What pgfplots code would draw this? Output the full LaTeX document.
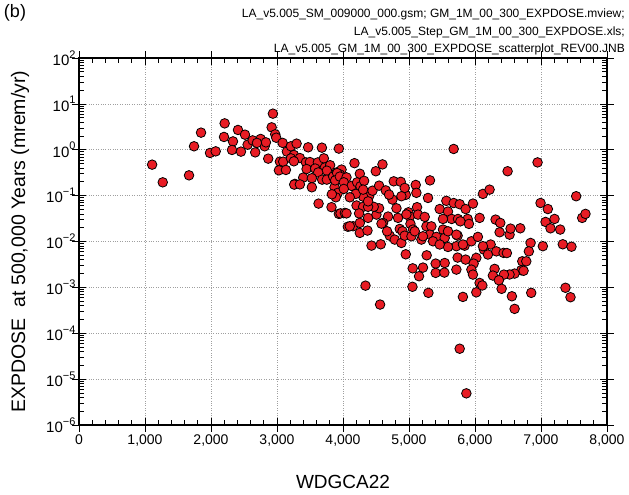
\documentclass[border=0pt]{standalone}
\usepackage{pgfplots}
\pgfplotsset{compat=1.18}
\usepackage{fontspec}
\setmainfont{Liberation Sans}
\definecolor{dotred}{RGB}{232,28,36}
\newcommand{\dec}[1]{10\raisebox{0.48em}{\fontsize{11}{12}\selectfont #1}}

\pgfplotstableread{
x y
1108 0.473
1269 0.195
1667 0.277
1743 1.19
1849 2.36
1985 0.852
2071 0.923
2207 3.76
2197 1.90
2333 1.52
2318 0.99
2409 2.70
2454 0.91
2515 2.13
2555 1.29
2631 1.60
2670 0.877
2752 1.72
2813 1.19
2832 1.45
2867 0.640
2938 6.12
2919 3.08
2973 2.17
2696 1.41
2988 1.83
3085 1.41
3150 0.91
3044 0.551
3094 0.55
3029 0.356
3135 0.363
3211 1.19
3297 1.36
3256 0.77
3211 0.65
3347 0.66
3271 0.18
3472 1.13
3680 1.11
3937 1.06
3438 0.53
3498 0.54
3619 0.53
3710 0.65
3725 0.41
3805 0.46
3902 0.32
3755 0.35
3448 0.38
3578 0.39
3624 0.32
3397 0.247
3528 0.24
3261 0.174
3347 0.176
3528 0.152
3684 0.223
3755 0.223
3872 0.153
3922 0.115
3891 0.092
3630 0.067
3826 0.056
3937 0.040
3256 0.56
3851 0.26
3978 0.37
3952 0.29
3911 0.31
3881 0.215
3831 0.107
3952 0.26
4053 0.25
4012 0.195
4174 0.51
4129 0.163
4214 0.195
4255 0.30
4265 0.16
4320 0.21
4395 0.097
4305 0.095
4194 0.109
4103 0.092
4012 0.14
4447 0.128
4497 0.34
4598 0.48
4547 0.165
4648 0.13
4749 0.082
4769 0.205
4875 0.20
4810 0.053
4683 0.035
4607 0.0254
4507 0.0386
4547 0.053
4466 0.057
4205 0.061
4305 0.057
4380 0.057
3963 0.041
4028 0.042
4073 0.021
4153 0.0215
4255 0.0154
4371 0.0173
4432 0.00814
4572 0.0087
4834 0.0327
4860 0.0188
4901 0.0167
4991 0.0433
5011 0.035
5022 0.0242
5061 0.0182
4951 0.104
4951 0.00526
4708 0.0134
4784 0.011
4885 0.0093
4935 0.0134
5037 0.013
4053 0.041
4103 0.0215
4244 0.041
4380 0.0327
4583 0.0245
4668 0.0167
4961 0.039
4935 0.147
4255 0.0254
4305 0.135
4698 0.105
4885 0.097
4380 0.075
4341 0.00109
4562 0.000422
5102 0.171
5112 0.115
5318 0.215
5288 0.089
5566 0.077
5677 0.069
5768 0.065
5858 0.051
5969 0.067
5465 0.051
5591 0.045
5647 0.031
5515 0.031
5742 0.031
5889 0.031
5908 0.0242
5778 0.0275
5122 0.056
5137 0.0386
5238 0.0344
5264 0.0214
5339 0.0214
5314 0.0141
5415 0.0126
5515 0.0182
5541 0.012
5591 0.0167
5737 0.0134
5843 0.0081
5718 0.0079
5591 0.0076
5945 0.0101
5188 0.011
5404 0.0033
5541 0.0034
5404 0.00207
5536 0.0021
5718 0.00244
5737 0.00446
5858 0.00403
6020 0.0044
5979 0.0033
5945 0.00244
5969 0.0019
5268 0.005
5056 0.0026
5212 0.0027
5152 0.00175
5052 0.00103
5294 0.00076
5817 0.00062
6020 0.00078
5768 0.000046
5869 0.0000049
5677 1.04
5087 0.0167
5212 0.013
5364 0.0101
5465 0.0086
6070 0.0327
5718 0.0141
5817 0.0086
6948 0.53
6494 0.34
6120 0.109
6221 0.135
6993 0.069
7104 0.051
7533 0.097
7624 0.0327
7674 0.040
7069 0.0267
7205 0.031
7144 0.0194
7291 0.0182
6312 0.030
6383 0.0254
6373 0.0159
6524 0.0141
6539 0.0191
6686 0.0194
6044 0.0126
6135 0.00667
6237 0.0086
6196 0.0052
6323 0.0061
6433 0.00565
6483 0.0056
6842 0.0093
6816 0.0061
6716 0.0037
6777 0.0037
6701 0.00236
6736 0.0023
6600 0.002
6524 0.00191
6438 0.0019
6297 0.00253
6271 0.00181
6362 0.00143
6070 0.00125
6111 0.0011
6403 0.00093
6559 0.00064
6852 0.00076
7028 0.0079
7330 0.0087
7462 0.0077
7371 0.00098
7447 0.00061
6600 0.00034
6120 0.0079
}\dosedata

\begin{document}
\begin{tikzpicture}
\useasboundingbox (-79pt,-70pt) rectangle (550pt,425pt);
\begin{axis}[
  at={(0,0)}, anchor=south west,
  scale only axis,
  width=528pt, height=367pt,
  xmin=0, xmax=8000,
  ymode=log, ymin=1e-6, ymax=1e2,
  xtick={0,1000,2000,3000,4000,5000,6000,7000,8000},
  minor x tick num=4,
  ytick={1e-6,1e-5,1e-4,1e-3,1e-2,1e-1,1e0,1e1,1e2},
  yticklabels={\dec{−6},\dec{−5},\dec{−4},\dec{−3},\dec{−2},\dec{−1},\dec{0},\dec{1},\dec{2}},
  minor ytick={
    0.000002,0.000003,0.000004,0.000005,0.000006,0.000007,0.000008,0.000009,
    0.00002,0.00003,0.00004,0.00005,0.00006,0.00007,0.00008,0.00009,
    0.0002,0.0003,0.0004,0.0005,0.0006,0.0007,0.0008,0.0009,
    0.002,0.003,0.004,0.005,0.006,0.007,0.008,0.009,
    0.02,0.03,0.04,0.05,0.06,0.07,0.08,0.09,
    0.2,0.3,0.4,0.5,0.6,0.7,0.8,0.9,
    2,3,4,5,6,7,8,9,
    20,30,40,50,60,70,80,90},
  extra x ticks={0,1000,2000,3000,4000,5000,6000,7000,8000},
  extra x tick labels={},
  extra x tick style={tick align=outside, grid=none},
  extra y ticks={1e-6,1e-5,1e-4,1e-3,1e-2,1e-1,1e0,1e1,1e2},
  extra y tick labels={},
  extra y tick style={tick align=outside, grid=none},
  /pgf/number format/1000 sep={,},
  /pgf/number format/assume math mode=true,
  xticklabel style={font=\fontsize{14}{16}\selectfont, yshift=-6pt},
  yticklabel style={font=\fontsize{15}{17}\selectfont},
  tick align=inside,
  major tick length=7pt,
  minor tick length=5pt,
  axis line style={line width=1.1pt},
  every tick/.style={black, line width=0.7pt},
  grid=major,
  major grid style={dotted, gray!75, line width=0.6pt},
  xlabel={WDGCA22},
  ylabel={EXPDOSE\ \ at 500,000 Years (mrem/yr)},
  every axis x label/.style={at={(axis description cs:0.5,0)}, anchor=center,
    yshift=-57pt, font=\fontsize{19}{21}\selectfont},
  every axis y label/.style={at={(axis description cs:0,0.5)}, anchor=center,
    xshift=-59pt, rotate=90, font=\fontsize{19.5}{21}\selectfont},
  clip=false,
]
\addplot[only marks, mark=*, mark size=4.8pt,
  mark options={fill=dotred, draw=black, line width=0.8pt}]
  table[x=x, y=y] {\dosedata};
\end{axis}
\node[anchor=center, font=\fontsize{18}{20}\selectfont] at (-64pt,412pt) {(b)};
\node[anchor=north east, align=right, inner sep=0pt, font=\fontsize{12}{17.5}\selectfont]
  at (546pt,416pt) {LA\_v5.005\_SM\_009000\_000.gsm; GM\_1M\_00\_300\_EXPDOSE.mview;\\
  LA\_v5.005\_Step\_GM\_1M\_00\_300\_EXPDOSE.xls;\\
  LA\_v5.005\_GM\_1M\_00\_300\_EXPDOSE\_scatterplot\_REV00.JNB};
\end{tikzpicture}
\end{document}
